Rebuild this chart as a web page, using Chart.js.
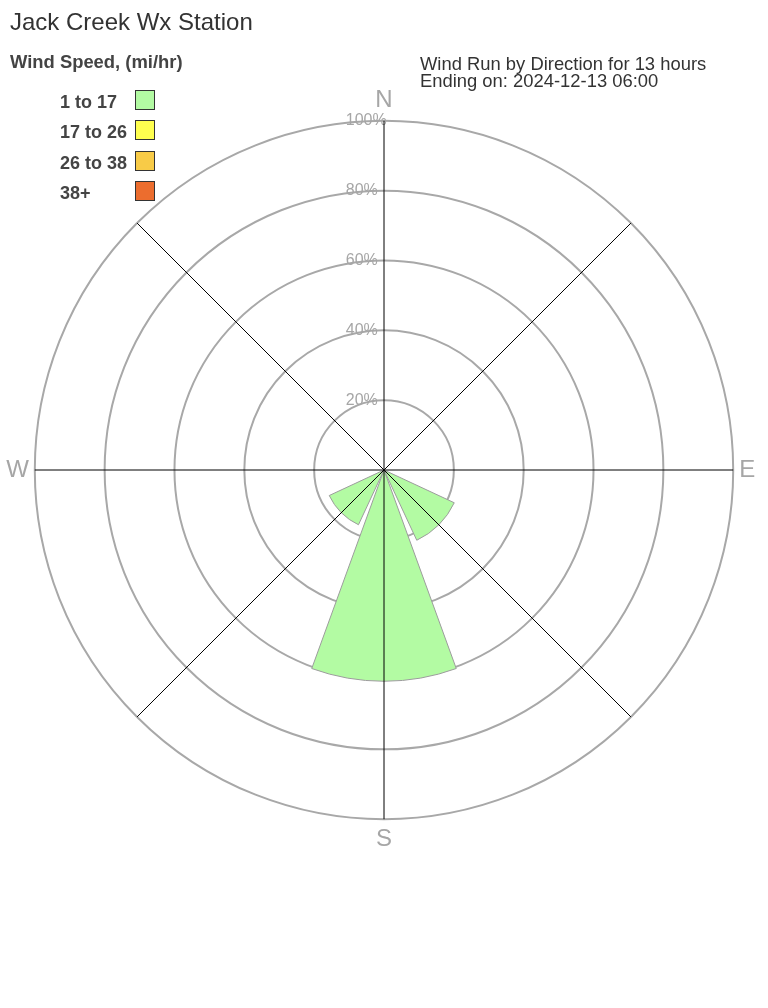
<!DOCTYPE html>
<html>
<head>
<meta charset="utf-8">
<title>Jack Creek Wx Station - Wind Rose</title>
<script src="https://cdn.jsdelivr.net/npm/chart.js@4.4.1/dist/chart.umd.min.js"></script>
<style>
  body { margin: 0; background: #fff; font-family: "Liberation Sans", Arial, sans-serif; color: #333; }
  #page { position: relative; width: 768px; height: 1008px; overflow: hidden; }
  #rose { position: absolute; left: -16px; top: 0; }
  .title { position: absolute; left: 10px; top: 10px; font-size: 24px; line-height: 24px; color: #333; }
  .legend-title { position: absolute; left: 10px; top: 53px; font-size: 18.4px; line-height: 18px; font-weight: bold; color: #444; }
  .legend-row { position: absolute; left: 60px; height: 21px; width: 100px; }
  .legend-row span { position: absolute; left: 0; top: 3px; font-size: 18px; line-height: 18px; font-weight: bold; color: #444; white-space: nowrap; }
  .legend-row i { position: absolute; left: 75px; top: 0; width: 18px; height: 18px; border: 1.5px solid #333; }
  .run-info { position: absolute; left: 420px; top: 55px; font-size: 18.4px; line-height: 17px; color: #333; }
</style>
</head>
<body>
<div id="page">
  <canvas id="rose" width="800" height="1008"></canvas>
  <div class="title">Jack Creek Wx Station</div>
  <div class="legend-title">Wind Speed, (mi/hr)</div>
  <div id="legend"></div>
  <div class="run-info">Wind Run by Direction for 13 hours<br>Ending on: 2024-12-13 06:00</div>
</div>
<script>
const DIRECTIONS = ['N', 'NE', 'E', 'SE', 'S', 'SW', 'W', 'NW'];
const SPEED_BINS = ['1 to 17', '17 to 26', '26 to 38', '38+'];
const BIN_COLORS = ['#b3fba3', '#ffff4f', '#f8cb47', '#ec6d2e'];

// % of wind run per direction, one array per speed bin
const RUN_1_TO_17 = [0, 0, 0, 22.2, 60.5, 17.3, 0, 0];
const RUN_17_TO_26 = [0, 0, 0, 0, 0, 0, 0, 0];
const RUN_26_TO_38 = [0, 0, 0, 0, 0, 0, 0, 0];
const RUN_38_PLUS = [0, 0, 0, 0, 0, 0, 0, 0];

const RADIUS_MAX = 100;
const RADIUS_STEP = 20;

const FONT = '"Liberation Sans", Arial, sans-serif';
const WEDGE = 40;            // degrees drawn per direction
const GAP = 45 - WEDGE;      // white gap between wedges

// legend
document.getElementById('legend').innerHTML = SPEED_BINS.map((bin, i) => `
  <div class="legend-row" style="top:${90 + i * 30.4}px">
    <span>${bin}</span><i style="background:${BIN_COLORS[i]}"></i>
  </div>`).join('');

// the north wedge straddles the start angle, so it is split in two halves
function sectors(values) {
  const out = [{ v: values[0], a: WEDGE / 2 }];
  for (let i = 1; i < values.length; i++) {
    out.push({ v: 0, a: GAP }, { v: values[i], a: WEDGE });
  }
  out.push({ v: 0, a: GAP }, { v: values[0], a: WEDGE / 2 });
  return out;
}

// tick labels are drawn centred by chart.js; pad them so they read left-aligned
const measureCtx = document.createElement('canvas').getContext('2d');
measureCtx.font = '16px ' + FONT;
function padTick(text) {
  let s = text;
  while (measureCtx.measureText(s + ' ').width <= 80) s += ' ';
  return s;
}

const bins = [RUN_1_TO_17, RUN_17_TO_26, RUN_26_TO_38, RUN_38_PLUS];
const datasets = [];
for (let b = bins.length - 1; b >= 0; b--) {
  const values = DIRECTIONS.map((_, d) => {
    if (!(bins[b][d] > 0)) return 0;
    return bins.slice(0, b + 1).reduce((sum, arr) => sum + arr[d], 0);
  });
  const sec = sectors(values);
  datasets.push({
    label: SPEED_BINS[b],
    rAxisID: 'r',
    data: sec.map((s) => s.v),
    backgroundColor: BIN_COLORS[b],
    borderColor: '#9c9c9c',
    borderWidth: (ctx) => (ctx.raw > 0 ? 1 : 0),
    angle: (ctx) => sec[ctx.dataIndex].a
  });
}

const tickFont = { family: FONT, size: 16, lineHeight: 1 };
const labelFont = { family: FONT, size: 24 };
const compass = (label) => (label.length === 1 ? label : '');

new Chart(document.getElementById('rose'), {
  type: 'polarArea',
  data: { labels: DIRECTIONS, datasets },
  options: {
    responsive: false,
    animation: false,
    events: [],
    layout: { padding: { left: 13, right: 19, top: 86, bottom: 154 } },
    plugins: { legend: { display: false }, tooltip: { enabled: false } },
    scales: {
      r: {
        type: 'radialLinear',
        min: 0,
        max: RADIUS_MAX,
        startAngle: 0,
        ticks: {
          stepSize: RADIUS_STEP,
          color: '#a6a6a6',
          font: tickFont,
          showLabelBackdrop: false,
          backdropPadding: 0,
          callback: (v) => padTick(v + '%')
        },
        grid: { circular: true, color: '#a8a8a8', lineWidth: 2 },
        angleLines: { display: false },
        pointLabels: { display: true, padding: -2, color: '#a6a6a6', font: labelFont, callback: compass }
      },
      spokes: {
        type: 'radialLinear',
        axis: 'r',
        min: 0,
        max: RADIUS_MAX,
        startAngle: 0,
        ticks: {
          stepSize: RADIUS_STEP,
          color: 'rgba(0,0,0,0)',
          font: tickFont,
          showLabelBackdrop: false,
          backdropPadding: 0
        },
        grid: { display: false, z: 1 },
        angleLines: { display: true, color: '#000', lineWidth: 1 },
        pointLabels: { display: true, padding: -2, color: 'rgba(0,0,0,0)', font: labelFont, callback: compass }
      }
    }
  }
});
</script>
</body>
</html>
